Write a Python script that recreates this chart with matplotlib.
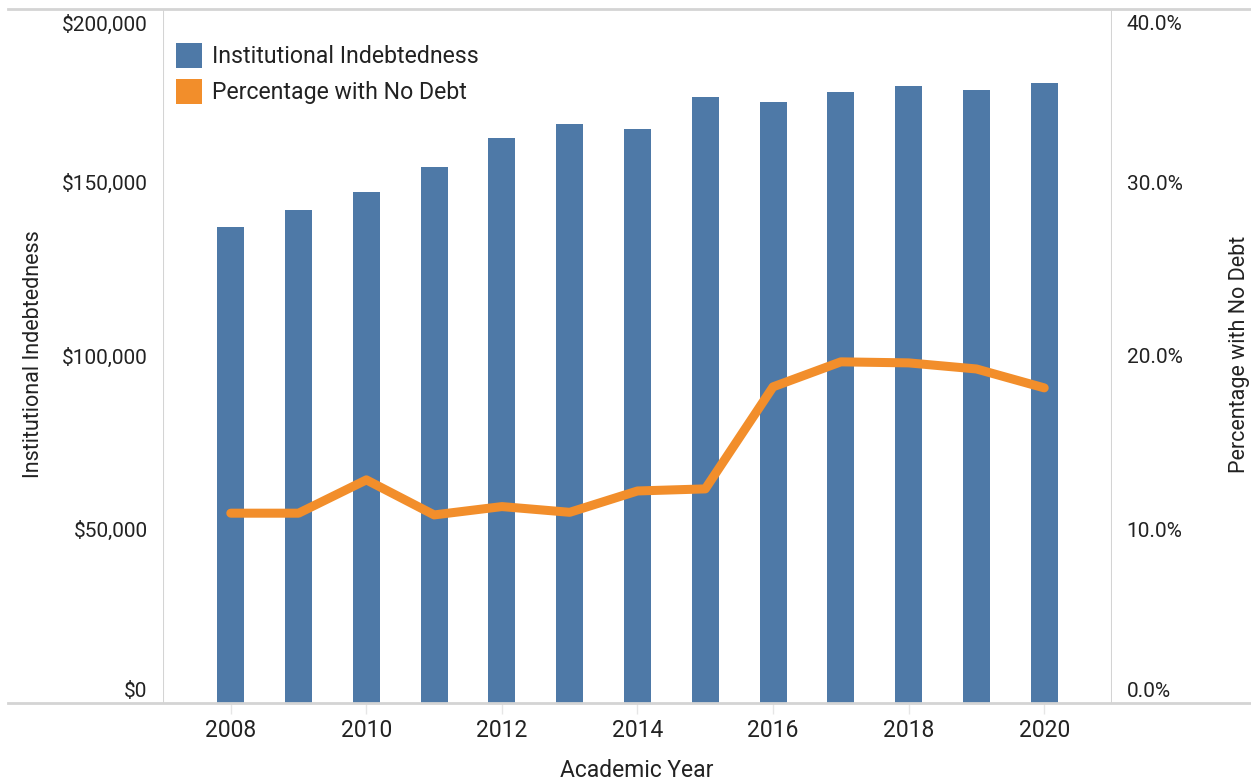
import matplotlib
matplotlib.use("Agg")
import matplotlib.pyplot as plt
from matplotlib.patches import Rectangle
from matplotlib.lines import Line2D

plt.rcParams['font.family'] = ['Roboto', 'DejaVu Sans']

years = [2008, 2009, 2010, 2011, 2012, 2013, 2014, 2015, 2016, 2017, 2018, 2019, 2020]
indebtedness = [137100, 142000, 147200, 154400, 162700, 166800, 165300,
                174600, 173100, 176000, 177700, 176600, 178600]
pct_no_debt = [10.92, 10.92, 12.84, 10.82, 11.30, 10.97, 12.20,
               12.32, 18.20, 19.64, 19.58, 19.23, 18.14]

left_ticks = [0, 50000, 100000, 150000, 200000]
left_labels = ["$0", "$50,000", "$100,000", "$150,000", "$200,000"]
right_ticks = [0, 10, 20, 30, 40]
right_labels = ["0.0%", "10.0%", "20.0%", "30.0%", "40.0%"]
x_ticks = [2008, 2010, 2012, 2014, 2016, 2018, 2020]
series_names = ["Institutional Indebtedness", "Percentage with No Debt"]

BLUE = "#4E79A7"
ORANGE = "#F28E2B"
GRID = "#d4d4d4"
TEXT = "#222222"

W, H = 1251, 783
fig = plt.figure(figsize=(W / 100, H / 100), dpi=100)
x0, x1 = 163 / W, 1112 / W
y_top, y_bot = 8.5, 702.7
ax = fig.add_axes([x0, 1 - y_bot / H, x1 - x0, (y_bot - y_top) / H])
ax2 = ax.twinx()

ax.bar(years, indebtedness, width=0.4, color=BLUE, zorder=2)
ax2.plot(years, pct_no_debt, color=ORANGE, lw=6.5, solid_capstyle='round',
         solid_joinstyle='round', zorder=3)

ax.set_xlim(2007, 2021)
ax.set_ylim(0, 200000)
ax2.set_ylim(0, 40)

for a in (ax, ax2):
    for s in a.spines.values():
        s.set_visible(False)
    a.set_yticks([])
ax.set_xticks(x_ticks)
ax.set_xticklabels([str(y) for y in x_ticks], fontsize=16.5, color=TEXT)
ax.tick_params(axis='x', length=8, width=1, color="#e6e6e6", pad=3.5)

ax.set_zorder(ax2.get_zorder() - 1)
ax.patch.set_visible(False)

# Vertical frame lines
ax.axvline(2007, color=GRID, lw=1.5, zorder=1)
ax.axvline(2021, color=GRID, lw=1.5, zorder=1)

# Horizontal frame lines running across the figure
for yy in (y_top, y_bot):
    fig.add_artist(Line2D([8 / W, 1], [1 - yy / H, 1 - yy / H],
                          transform=fig.transFigure, color=GRID, lw=2))

# Value axis labels (end labels tucked inside the frame)
def tick_text(axis, vals, labels, x_off, ha, ymax):
    for v, lab in zip(vals, labels):
        dy = -1.5
        va = 'center'
        if v == 0:
            va, dy = 'bottom', 1.5
        elif v == ymax:
            va, dy = 'top', -4.5
        x = 0 if ha == 'right' else 1
        axis.annotate(lab, xy=(x, v), xycoords=axis.get_yaxis_transform(),
                      xytext=(x_off, dy), textcoords='offset points',
                      ha=ha, va=va, fontsize=15, color=TEXT)

tick_text(ax, left_ticks, left_labels, -11, 'right', 200000)
tick_text(ax2, right_ticks, right_labels, 10.5, 'left', 40)

fig.text(34 / W, 1 - 354 / H, "Institutional Indebtedness", rotation=90,
         ha='center', va='center', fontsize=15.5, color=TEXT)
fig.text(1239 / W, 1 - 354 / H, "Percentage with No Debt", rotation=90,
         ha='center', va='center', fontsize=15.5, color=TEXT)
fig.text(637 / W, 1 - 777 / H, "Academic Year", ha='center', va='baseline',
         fontsize=16.5, color=TEXT)

# Legend: colour swatches with labels
for name, color, sq_top, baseline in ((series_names[0], BLUE, 43.3, 63.3),
                                      (series_names[1], ORANGE, 79.3, 98.5)):
    fig.add_artist(Rectangle((176 / W, 1 - (sq_top + 25) / H), 25.5 / W, 25 / H,
                             transform=fig.transFigure, facecolor=color,
                             edgecolor='none'))
    fig.text(211.5 / W, 1 - baseline / H, name, ha='left', va='baseline',
             fontsize=16.7, color=TEXT)

fig.savefig("out.png", dpi=100, facecolor="white")
